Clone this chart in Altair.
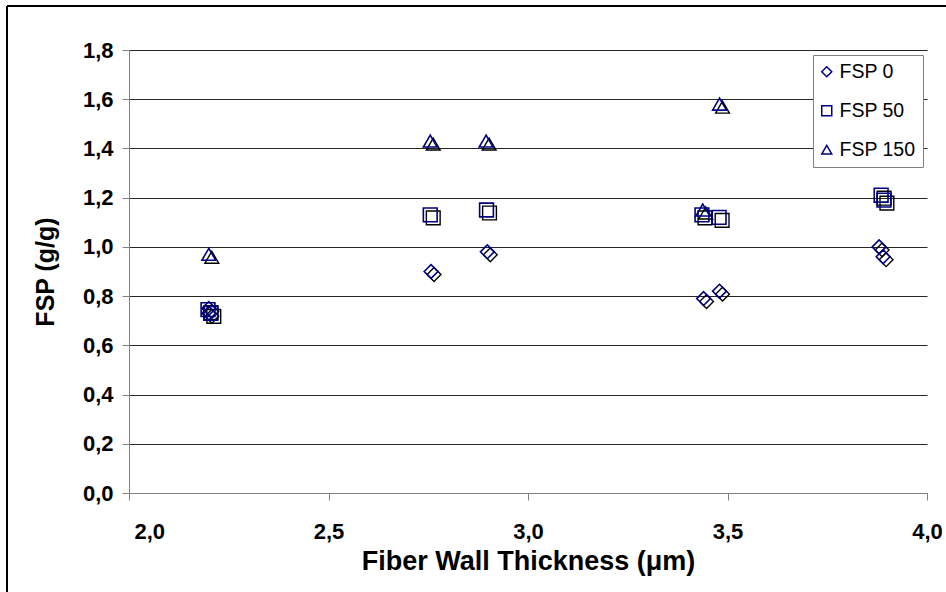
import altair as alt
import pandas as pd

# ---- data ----
fsp0_x = [2.20, 2.20, 2.757, 2.898, 3.44, 3.48, 3.88, 3.89]
fsp0_y = [0.75, 0.73, 0.90, 0.98, 0.79, 0.82, 1.00, 0.96]
fsp50_x = [2.198, 2.205, 2.755, 2.896, 3.436, 3.479, 3.885, 3.892]
fsp50_y = [0.745, 0.73, 1.13, 1.15, 1.13, 1.12, 1.21, 1.19]
fsp150_x = [2.20, 2.755, 2.895, 3.438, 3.48]
fsp150_y = [0.97, 1.43, 1.43, 1.15, 1.58]

series_names = ["FSP 0", "FSP 50", "FSP 150"]
shapes = ["diamond", "square", "triangle-up"]
y_ticks = [0.0, 0.2, 0.4, 0.6, 0.8, 1.0, 1.2, 1.4, 1.6, 1.8]
x_ticks = [2.0, 2.5, 3.0, 3.5, 4.0]

rows = []
for name, xs, ys in zip(series_names, [fsp0_x, fsp50_x, fsp150_x], [fsp0_y, fsp50_y, fsp150_y]):
    for xv, yv in zip(xs, ys):
        rows.append({"series": name, "x": xv, "y": yv})
df = pd.DataFrame(rows)

FONT = "Liberation Sans"
NAVY = "#000080"
W, H = 798, 443
PAD_L, PAD_T = 129, 50

label_expr = "replace(format(datum.value, '.1f'), '.', ',')"

x_enc = alt.X("x:Q", scale=alt.Scale(domain=[2, 4], nice=False),
              axis=alt.Axis(values=x_ticks, labelExpr=label_expr, grid=False,
                            title="Fiber Wall Thickness (\u03bcm)",
                            labelFlush=False,
                            labelAlign={"expr": "datum.value == 2 ? 'left' : 'center'"},
                            labelOffset={"expr": "datum.value == 2 ? 5 : 0"},
                            labelFont=FONT, labelFontSize=22, labelFontWeight="bold",
                            labelColor="black", labelPadding=21,
                            titleFont=FONT, titleFontSize=27, titleFontWeight="bold",
                            titleColor="black", titlePadding=6,
                            domainColor="#808080", tickColor="#808080", tickSize=7))
y_enc = alt.Y("y:Q", scale=alt.Scale(domain=[0, 1.8], nice=False),
              axis=alt.Axis(values=y_ticks, labelExpr=label_expr, grid=True,
                            gridColor="#000000", gridWidth=1, gridOpacity=0.85,
                            title="FSP (g/g)",
                            labelFont=FONT, labelFontSize=22, labelFontWeight="bold",
                            labelColor="black", labelPadding=9,
                            titleFont=FONT, titleFontSize=25, titleFontWeight="bold",
                            titleColor="black", titlePadding=24,
                            domainColor="#808080", tickColor="#808080", tickSize=7))

shape_scale = alt.Scale(domain=series_names, range=shapes)

shadow = alt.Chart(df).mark_point(
    filled=False, color="black", strokeWidth=1.4, size=190, xOffset=3, yOffset=3, opacity=1
).encode(
    x=x_enc, y=y_enc,
    shape=alt.Shape("series:N", scale=shape_scale, legend=None),
)

main = alt.Chart(df).mark_point(
    filled=False, color=NAVY, strokeWidth=1.6, size=190, opacity=1
).encode(
    x=alt.X("x:Q"), y=alt.Y("y:Q"),
    shape=alt.Shape("series:N", scale=shape_scale, sort=series_names,
                    legend=alt.Legend(title=None, orient="none",
                                      legendX=813 - PAD_L, legendY=55 - PAD_T,
                                      fillColor="white", strokeColor="#808080",
                                      padding=7, rowPadding=18,
                                      symbolSize=100, symbolStrokeColor=NAVY,
                                      symbolFillColor="transparent",
                                      symbolStrokeWidth=1.5, symbolOffset=-3,
                                      labelFont=FONT, labelFontSize=19.5,
                                      labelColor="black", labelOffset=3)),
)

frame_left = alt.Chart(df).mark_rule(color="black", strokeWidth=2).encode(
    x=alt.value(7 - PAD_L), y=alt.value(6 - PAD_T), y2=alt.value(700)
)
frame_top = alt.Chart(df).mark_rule(color="black", strokeWidth=2).encode(
    x=alt.value(7 - PAD_L), x2=alt.value(1000), y=alt.value(6 - PAD_T)
)

chart = alt.layer(shadow, main, frame_left, frame_top).resolve_scale(
    shape="independent"
).properties(
    width=W, height=H,
    autosize=alt.AutoSizeParams(type="none"),
    padding={"left": PAD_L, "top": PAD_T, "right": 946 - PAD_L - W, "bottom": 592 - PAD_T - H},
    background="white",
).configure_view(stroke=None)

chart.save("out.html", embed_options={"renderer": "svg", "actions": False})
